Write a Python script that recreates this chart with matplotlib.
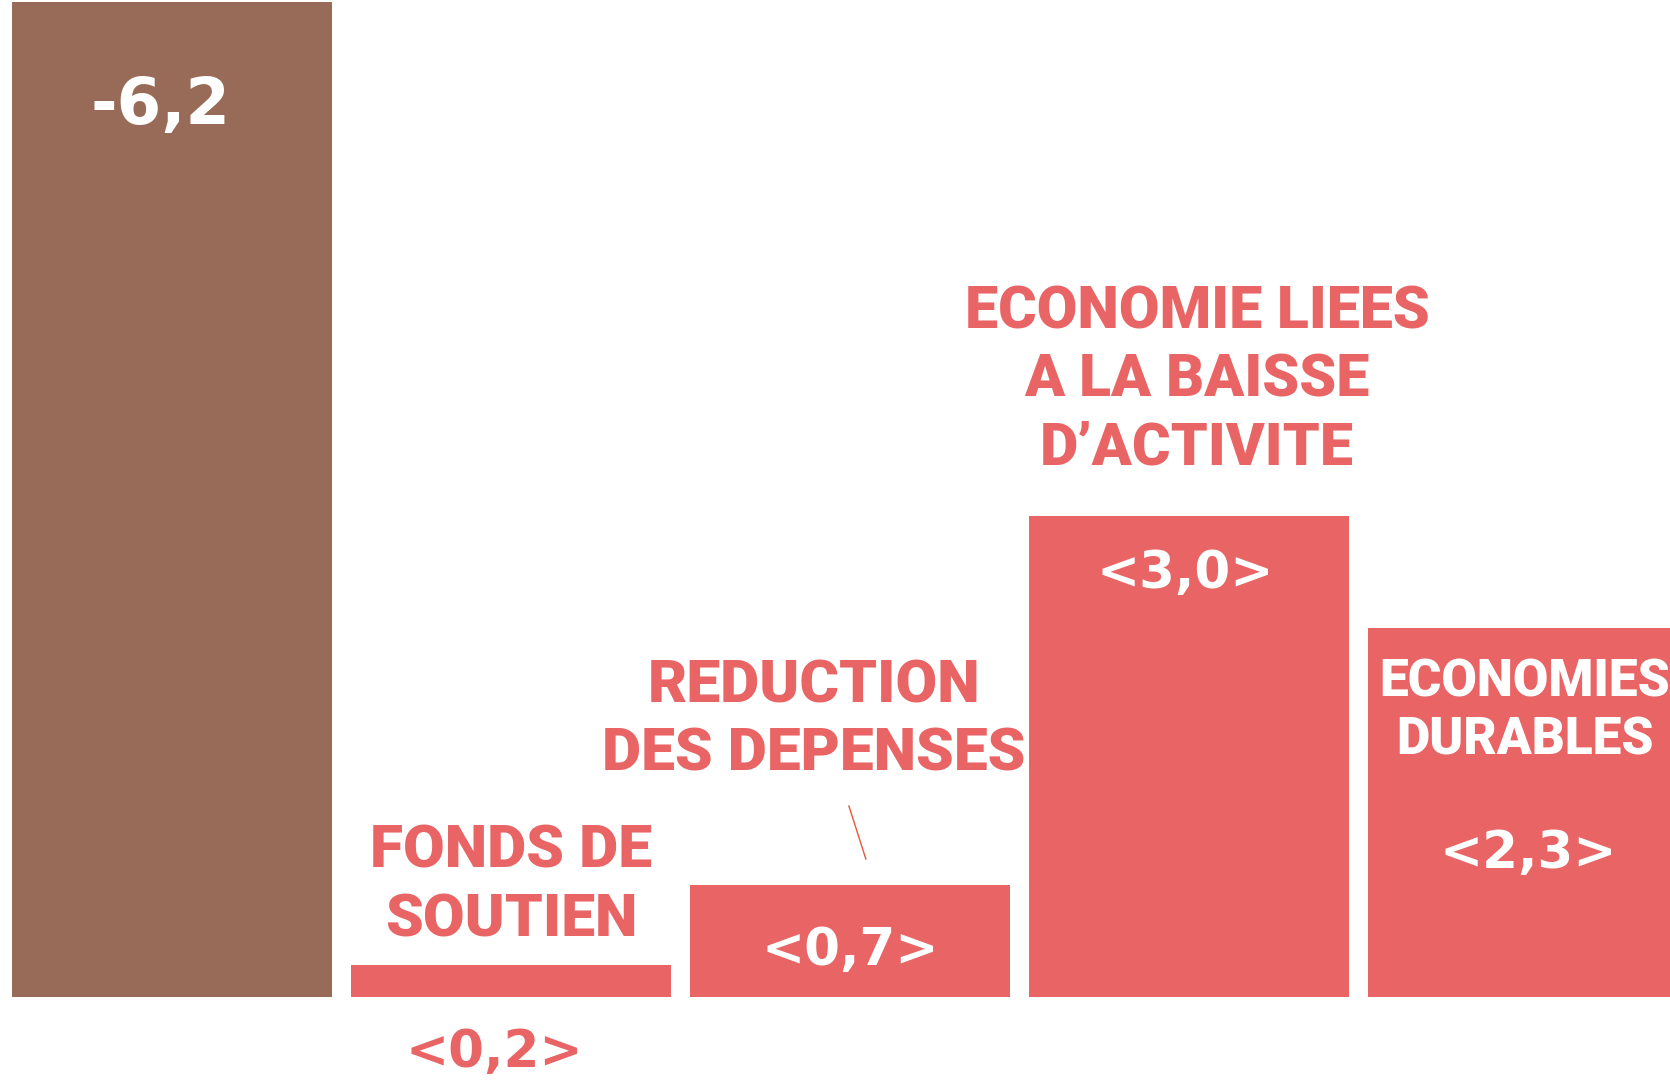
import numpy as np
import matplotlib.pyplot as plt

# values (in bn)
categories = ['solde', 'fonds', 'reduction', 'activite', 'durables']
values = [-6.2, 0.2, 0.7, 3.0, 2.3]
value_labels = ['-6,2', '<0,2>', '<0,7>', '<3,0>', '<2,3>']
cat_labels = ['', 'FONDS DE\nSOUTIEN', 'REDUCTION\nDES DEPENSES',
              'ECONOMIE LIEES\nA LA BAISSE\nD\u2019ACTIVITE', 'ECONOMIES\nDURABLES']

brown = '#976B57'
red = '#E96464'
colors = [brown, red, red, red, red]

label_font = ['Roboto', 'DejaVu Sans']
num_font = ['DejaVu Sans']

fig = plt.figure(figsize=(16.7, 10.8), dpi=100)
ax = fig.add_axes([0, 0, 1, 1])
x = np.arange(len(categories))
ax.bar(x, np.abs(values), width=0.944, color=colors)
ax.set_xlim(-0.507, 4.419)
ax.set_ylim(-0.517, 6.212)
ax.axis('off')

# value labels
ax.text(x[0] - 0.035, abs(values[0]) - 0.76, value_labels[0], color='white',
        fontsize=46, fontweight='bold', family=num_font, ha='center', va='baseline')
ax.text(x[1] - 0.05, -0.436, value_labels[1], color=red,
        fontsize=37, fontweight='bold', family=num_font, ha='center', va='baseline')
ax.text(x[2], 0.199, value_labels[2], color='white',
        fontsize=37, fontweight='bold', family=num_font, ha='center', va='baseline')
ax.text(x[3] - 0.012, 2.548, value_labels[3], color='white',
        fontsize=37, fontweight='bold', family=num_font, ha='center', va='baseline')
ax.text(x[4], 0.804, value_labels[4], color='white',
        fontsize=37, fontweight='bold', family=num_font, ha='center', va='baseline')

# category labels, one line at a time
def lines(xc, y0, text, step, color, size):
    for i, ln in enumerate(text.split('\n')):
        ax.text(xc, y0 - i * step, ln, color=color, fontsize=size,
                fontweight=900, family=label_font, ha='center', va='baseline')

lines(x[1], 0.804, cat_labels[1], 0.43, red, 43.5)
lines(x[2] - 0.106, 1.838, cat_labels[2], 0.424, red, 43.5)
lines(x[3] + 0.024, 4.168, cat_labels[3], 0.424, red, 42.5)
lines(x[4] - 0.01, 1.875, cat_labels[4], 0.361, 'white', 37)

# small leader line above the 0,7 bar
ax.plot([x[2] - 0.003, x[2] + 0.047], [1.190, 0.860], color='#E8573A', lw=1)

fig.savefig('out.png', dpi=100)
